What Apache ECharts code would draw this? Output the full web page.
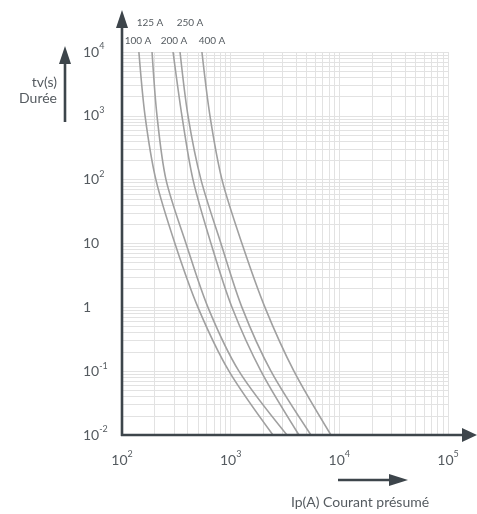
<!DOCTYPE html>
<html><head><meta charset="utf-8">
<script src="https://cdn.jsdelivr.net/npm/echarts@6/dist/echarts.min.js"></script>
<style>html,body{margin:0;padding:0;background:#fff}#c{width:477px;height:514px}</style>
</head><body><div id="c"></div>
<script>
// ---- data ----
const seriesNames = ['100 A', '125 A', '200 A', '250 A', '400 A'];
const times = [10000, 1000, 100, 10, 1, 0.1, 0.01];        // tv (s)
const current100 = [143, 163, 205, 307, 500, 965, 2450];    // Ip (A)
const current125 = [189, 210, 254, 388, 618, 1192, 3296];
const current200 = [295, 356, 450, 659, 1028, 1900, 4250];
const current250 = [342, 405, 533, 814, 1270, 2349, 5480];
const current400 = [544, 645, 832, 1270, 2068, 3822, 8370];
const xTickValues = [100, 1000, 10000, 100000];
const xTickLabels = ['10^2', '10^3', '10^4', '10^5'];
const yTickValues = [0.01, 0.1, 1, 10, 100, 1000, 10000];
const yTickLabels = ['10^-2', '10^-1', '1', '10', '10^2', '10^3', '10^4'];
const minorMultipliers = [1, 2, 3, 4, 5, 6, 7, 8, 9];

const currents = [current100, current125, current200, current250, current400];
const FONT = 'Lato, "Noto Sans", sans-serif';
const TXT = '#555b60';
const AX = '#3d454b';

function labelFmt(values, labels) {
  return function (v) {
    const e = Math.round(Math.log10(v));
    const i = values.findIndex(t => Math.round(Math.log10(t)) === e);
    if (i < 0) return '';
    const parts = labels[i].split('^');
    return parts.length > 1 ? '{b|' + parts[0] + '}{s|' + parts[1] + '}' : '{b|' + parts[0] + '}';
  };
}
const rich = {
  b: { fontSize: 14, color: TXT, fontFamily: FONT, lineHeight: 20 },
  s: { fontSize: 9, color: TXT, fontFamily: FONT, lineHeight: 8, verticalAlign: 'top' }
};

// grid line values (decades and 2..9 subdivisions)
const xGrid = [], yGrid = [];
for (let k = 2; k <= 4; k++) minorMultipliers.forEach(m => xGrid.push(m * Math.pow(10, k)));
xGrid.push(100000);
for (let k = -2; k <= 3; k++) minorMultipliers.forEach(m => yGrid.push(+(m * Math.pow(10, k)).toPrecision(6)));
yGrid.push(10000);

const series = seriesNames.map((name, s) => ({
  name: name,
  type: 'line',
  smooth: 0.3,
  symbol: 'none',
  lineStyle: { color: '#a0a0a0', width: 1.6 },
  data: currents[s].map((c, i) => [c, times[i]]),
  z: 5
}));
series.unshift({
  type: 'line', data: [], silent: true, z: 1,
  markLine: {
    silent: true, symbol: 'none', animation: false,
    label: { show: false },
    lineStyle: { color: '#e2e2e2', width: 1, type: 'solid' },
    emphasis: { disabled: true },
    data: xGrid.map(v => ({ xAxis: v })).concat(yGrid.map(v => ({ yAxis: v })))
  }
});

const chart = echarts.init(document.getElementById('c'), null, { renderer: 'canvas' });
chart.setOption({
  animation: false,
  backgroundColor: '#fff',
  grid: { left: 122, right: 29, top: 52, bottom: 79, containLabel: false },
  xAxis: {
    type: 'log', logBase: 10, min: 100, max: 100000, splitNumber: 3,
    axisLine: { show: false }, axisTick: { show: false }, splitLine: { show: false },
    axisLabel: { margin: 15, formatter: labelFmt(xTickValues, xTickLabels), rich: rich, showMinLabel: true, showMaxLabel: true }
  },
  yAxis: {
    type: 'log', logBase: 10, min: 0.01, max: 10000, splitNumber: 6,
    axisLine: { show: false }, axisTick: { show: false }, splitLine: { show: false },
    axisLabel: { margin: 39, align: 'left', formatter: labelFmt(yTickValues, yTickLabels), rich: rich, showMinLabel: true, showMaxLabel: true }
  },
  series: series,
  graphic: [
    // y axis with arrow
    { type: 'line', shape: { x1: 122, y1: 436, x2: 122, y2: 26 }, style: { stroke: AX, lineWidth: 2.6 }, z: 20 },
    { type: 'polygon', shape: { points: [[116, 28], [128, 28], [122, 10]] }, style: { fill: AX }, z: 20 },
    // x axis with arrow
    { type: 'line', shape: { x1: 121, y1: 435, x2: 464, y2: 435 }, style: { stroke: AX, lineWidth: 2.6 }, z: 20 },
    { type: 'polygon', shape: { points: [[462, 428], [462, 442], [477, 435]] }, style: { fill: AX }, z: 20 },
    // y title arrow
    { type: 'line', shape: { x1: 65, y1: 122, x2: 65, y2: 62 }, style: { stroke: AX, lineWidth: 2.6 }, z: 20 },
    { type: 'polygon', shape: { points: [[59, 64], [71, 64], [65, 46]] }, style: { fill: AX }, z: 20 },
    { type: 'text', x: 57, y: 82, style: { text: 'tv(s)', fill: TXT, font: '14px ' + FONT, align: 'right', verticalAlign: 'middle' }, z: 20 },
    { type: 'text', x: 57, y: 98, style: { text: 'Durée', fill: TXT, font: '14px ' + FONT, align: 'right', verticalAlign: 'middle' }, z: 20 },
    // x title arrow
    { type: 'line', shape: { x1: 338, y1: 480, x2: 392, y2: 480 }, style: { stroke: AX, lineWidth: 2.6 }, z: 20 },
    { type: 'polygon', shape: { points: [[389, 474], [389, 486], [408, 480]] }, style: { fill: AX }, z: 20 },
    { type: 'text', x: 360, y: 502, style: { text: 'Ip(A) Courant présumé', fill: TXT, font: '14px ' + FONT, align: 'center', verticalAlign: 'middle' }, z: 20 },
    // curve labels
    { type: 'text', x: 150, y: 23, style: { text: seriesNames[1], fill: TXT, font: '10px ' + FONT, align: 'center', verticalAlign: 'middle' }, z: 20 },
    { type: 'text', x: 190, y: 23, style: { text: seriesNames[3], fill: TXT, font: '10px ' + FONT, align: 'center', verticalAlign: 'middle' }, z: 20 },
    { type: 'text', x: 138, y: 41, style: { text: seriesNames[0], fill: TXT, font: '10px ' + FONT, align: 'center', verticalAlign: 'middle' }, z: 20 },
    { type: 'text', x: 174, y: 41, style: { text: seriesNames[2], fill: TXT, font: '10px ' + FONT, align: 'center', verticalAlign: 'middle' }, z: 20 },
    { type: 'text', x: 212, y: 41, style: { text: seriesNames[4], fill: TXT, font: '10px ' + FONT, align: 'center', verticalAlign: 'middle' }, z: 20 }
  ]
});
</script></body></html>
